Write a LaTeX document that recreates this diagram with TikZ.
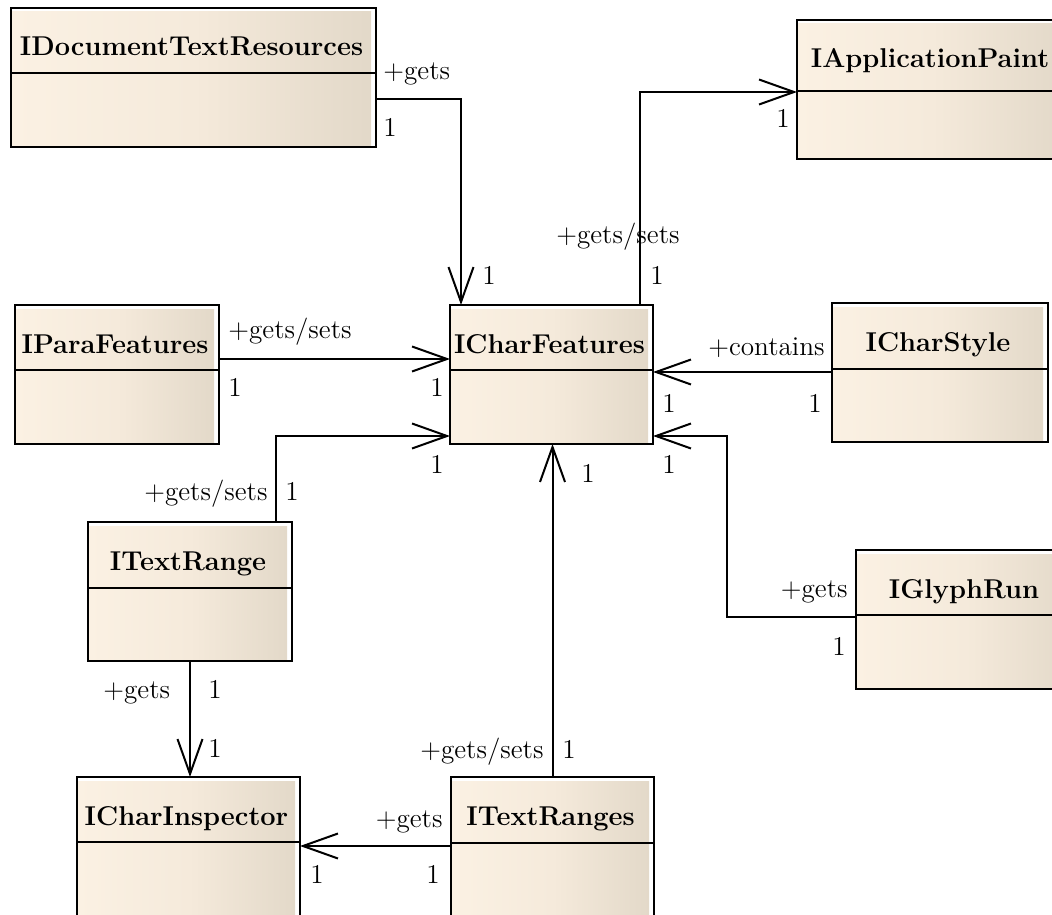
\RequirePackage{fix-cm}
\documentclass[tikz,border=0pt]{standalone}
\usepackage{tikz}
\usetikzlibrary{arrows,arrows.meta,shapes,calc}
\definecolor{ifaceL}{HTML}{FBF1E3}
\definecolor{ifaceM}{HTML}{F5EADB}
\definecolor{ifaceR}{HTML}{E2D8C8}

\begin{document}
\begin{tikzpicture}[x=0.5pt, y=-0.5pt,
	ibox/.style={rectangle, draw=black, fill=white, line width=1.2pt, outer sep=0pt, inner sep=0pt,
		minimum height=69.5pt,
		path picture={\shade[left color=ifaceL, right color=ifaceR, middle color=ifaceM]
			($(path picture bounding box.north west)+(0,4)$) rectangle ($(path picture bounding box.south east)+(-5,0)$);}},
	ititle/.style={font=\fontsize{13.6}{16}\selectfont\bfseries, inner sep=0pt},
	lbl/.style={font=\fontsize{13.6}{16}\selectfont, inner sep=0pt},
	assoc/.style={line width=1pt, -{Straight Barb[length=17.5pt,width=12.5pt,line width=1pt]}}]
	\useasboundingbox (0,0) rectangle (1052,914);
	\clip (0,0) rectangle (1052,914);

	% name, x, y, width, title, divider
	\def\iface#1#2#3#4#5#6{
		\node[ibox, minimum width=#4*0.5pt, anchor=north west] (#1) at (#2,#3) {};
		\draw[line width=1pt] ($(#1.north west)+(0,#6)$) -- ($(#1.north east)+(0,#6)$);
		\node[ititle, anchor=base] (#1-t) at ($(#1.north)+(-2,48)$) {#5};
	}

	\iface{doc}{11}{8}{365}{IDocumentTextResources}{65}
	\iface{app}{797}{20}{270}{IApplicationPaint}{71}
	\iface{para}{15}{305}{204}{IParaFeatures}{65}
	\iface{cf}{450}{305}{203}{ICharFeatures}{65}
	\iface{cs}{832}{303}{216}{ICharStyle}{66}
	\iface{tr}{88}{522}{204}{ITextRange}{66}
	\iface{gr}{856}{550}{220}{IGlyphRun}{65}
	\iface{ci}{77}{777}{223}{ICharInspector}{65}
	\iface{trs}{451}{777}{203}{ITextRanges}{66}

	\draw[assoc] ($(doc.north east)+(0,91)$) -| ($(cf.north west)+(11,0)$);
	\draw[assoc] ($(cf.north west)+(190,0)$) |- ($(app.north west)+(0,72)$);
	\draw[assoc] ($(para.north east)+(0,54)$) -- ($(cf.north west)+(0,54)$);
	\draw[assoc] ($(tr.north west)+(188,0)$) |- ($(cf.north west)+(0,131)$);
	\draw[assoc] (trs.north) -- (trs.north |- cf.south);
	\draw[assoc] ($(cs.north west)+(0,69)$) -- ($(cf.north east)+(0,67)$);
	\draw[assoc] ($(gr.north west)+(0,67)$) -| ($(cf.north east)+(74,131)$) -- ($(cf.north east)+(0,131)$);
	\draw[assoc] (tr.south) -- (tr.south |- ci.north);
	\draw[assoc] ($(trs.north west)+(0,69)$) -- ($(ci.north east)+(0,69)$);

	% role names and multiplicities
	\foreach \x/\y/\a/\t [count=\i] in {
		383/80/west/{+gets}, 383/137/west/1, 482/285/west/1,
		680/243/east/{+gets/sets}, 650/285/west/1, 776/128/west/1,
		228/338/west/{+gets/sets}, 228/396/west/1, 430/396/west/1,
		268/500/east/{+gets/sets}, 285/500/west/1, 430/473/west/1,
		544/758/east/{+gets/sets}, 562/758/west/1, 581/482/west/1,
		825/355/east/{+contains}, 822/412/east/1, 662/412/west/1,
		848/597/east/{+gets}, 846/655/east/1, 662/473/west/1,
		103/698/west/{+gets}, 208/698/west/1, 208/757/west/1,
		443/827/east/{+gets}, 440/883/east/1, 310/883/west/1}
		\node[lbl, anchor=base \a] (l\i) at (\x,\y) {\t};
\end{tikzpicture}
\end{document}
